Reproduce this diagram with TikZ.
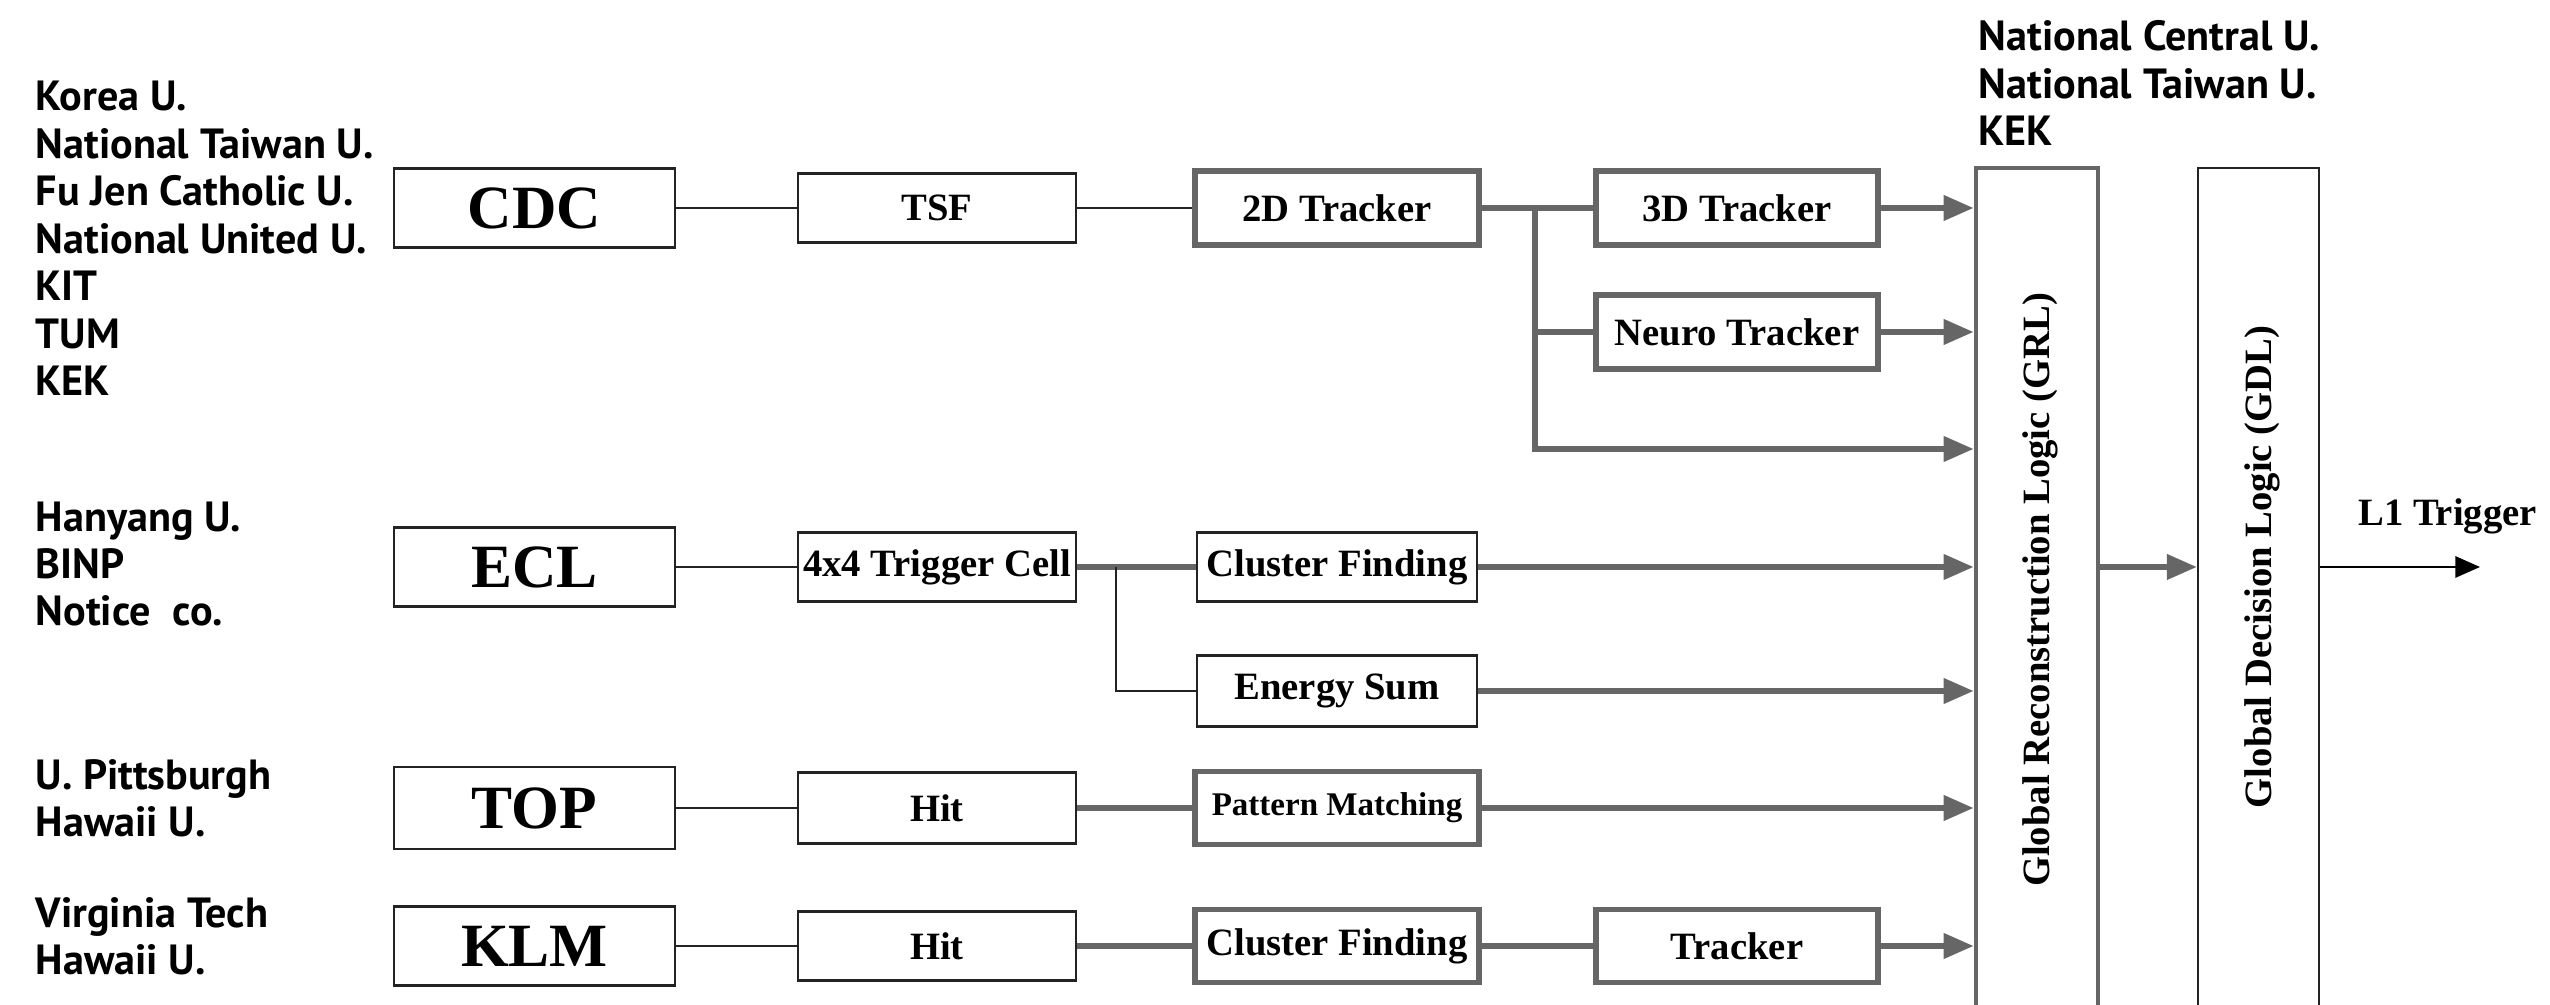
\documentclass[tikz,border=0pt]{standalone}
\usepackage{fontspec}
\setmainfont{Liberation Serif}
\newfontfamily\instfont{PT Sans}
\usetikzlibrary{arrows.meta}
\definecolor{boxgray}{RGB}{102,102,102}
\definecolor{lineblk}{RGB}{35,35,35}

\begin{document}
\begin{tikzpicture}[
    thinbox/.style={draw=lineblk, line width=0.7pt, inner sep=0pt, font=\fontsize{11}{13}\selectfont\bfseries},
    thickbox/.style={draw=boxgray, line width=1.6pt, inner sep=0pt, font=\fontsize{11}{13}\selectfont\bfseries},
    detbox/.style={thinbox, minimum width=2.81cm, minimum height=0.79cm, font=\fontsize{17.5}{20}\selectfont\bfseries},
    inst/.style={anchor=west, align=left, inner sep=0pt, font=\instfont\fontsize{12}{13.5}\selectfont\bfseries},
    thinline/.style={draw=lineblk, line width=0.6pt},
    grayline/.style={draw=boxgray, line width=1.5pt},
    grayarrow/.style={grayline, -{Triangle[length=8.5pt,width=7pt]}},
    blkarrow/.style={draw=black, line width=0.7pt, -{Triangle[length=7pt,width=6pt]}}
  ]
    \path[use as bounding box, clip] (0,0) rectangle (25.5,10.05);

    % Detektoren
    \node[detbox] (cdc) at (5.345,7.97) {CDC};
    \node[detbox] (ecl) at (5.345,4.38) {ECL};
    \node[detbox, minimum height=0.82cm] (top) at (5.345,1.97) {TOP};
    \node[detbox] (klm) at (5.345,0.59) {KLM};

    % Institute
    \node[inst] (cdcinst) at (0.35,7.665) {Korea U.\\National Taiwan U.\\Fu Jen Catholic U.\\National United U.\\KIT\\TUM\\KEK};
    \node[inst] (eclinst) at (0.35,4.41) {Hanyang U.\\BINP\\Notice\ \ co.};
    \node[inst] (topinst) at (0.35,2.07) {U. Pittsburgh\\Hawaii U.};
    \node[inst] (klminst) at (0.35,0.685) {Virginia Tech\\Hawaii U.};
    \node[inst] (grlinst) at (19.78,9.22) {National Central U.\\National Taiwan U.\\KEK};

    % erste Stufe
    \node[thinbox, minimum width=2.78cm, minimum height=0.69cm] (tsf) at (9.37,7.97) {TSF};
    \node[thinbox, minimum width=2.78cm, minimum height=0.69cm] (trg) at (9.37,4.38) {4x4 Trigger Cell};
    \node[thinbox, minimum width=2.78cm, minimum height=0.71cm] (hittop) at (9.37,1.97) {Hit};
    \node[thinbox, minimum width=2.78cm, minimum height=0.69cm] (hitklm) at (9.37,0.59) {Hit};

    % zweite Stufe
    \node[thickbox, minimum width=2.84cm, minimum height=0.74cm] (tdd) at (13.37,7.97) {2D Tracker};
    \node[thinbox, minimum width=2.80cm, minimum height=0.69cm] (cfecl) at (13.37,4.38) {Cluster Finding};
    \node[thinbox, minimum width=2.80cm, minimum height=0.71cm] (esum) at (13.37,3.14) {Energy Sum};
    \node[thickbox, minimum width=2.84cm, minimum height=0.73cm, font=\fontsize{9.4}{11}\selectfont\bfseries] (pm) at (13.37,1.97) {Pattern Matching};
    \node[thickbox, minimum width=2.84cm, minimum height=0.73cm] (cfklm) at (13.37,0.59) {Cluster Finding};

    % dritte Stufe
    \node[thickbox, minimum width=2.82cm, minimum height=0.74cm] (ttd) at (17.37,7.97) {3D Tracker};
    \node[thickbox, minimum width=2.82cm, minimum height=0.74cm] (neuro) at (17.37,6.73) {Neuro Tracker};
    \node[thickbox, minimum width=2.82cm, minimum height=0.73cm] (trk) at (17.37,0.59) {Tracker};

    % GRL und GDL
    \node[thickbox, line width=1.4pt, minimum width=1.22cm, minimum height=8.67cm] (grl) at (20.37,4.035) {};
    \node[rotate=90, font=\fontsize{11}{13}\selectfont\bfseries] (grltxt) at (20.40,4.15) {Global Reconstruction Logic (GRL)};
    \node[thinbox, minimum width=1.21cm, minimum height=8.67cm] (gdl) at (22.585,4.035) {};
    \node[rotate=90, font=\fontsize{11}{13}\selectfont\bfseries] (gdltxt) at (22.62,4.38) {Global Decision Logic (GDL)};

    % CDC
    \draw[thinline] (cdc) -- (tsf);
    \draw[thinline] (tsf) -- (tdd);
    \draw[grayline] (tdd) -- (ttd);
    \coordinate (br) at (15.35,7.97);
    \coordinate (byp) at (15.35,5.56);
    \draw[grayline] (br) |- (neuro);
    \draw[grayarrow] (br) -- (byp) -- (byp -| grl.west);
    \draw[grayarrow] (ttd) -- (ttd -| grl.west);
    \draw[grayarrow] (neuro) -- (neuro -| grl.west);

    % ECL
    \draw[thinline] (ecl) -- (trg);
    \draw[grayline] (trg) -- (cfecl);
    \coordinate (ebr) at (11.16,4.38);
    \draw[thinline] (ebr) |- (esum);
    \draw[grayarrow] (cfecl) -- (cfecl -| grl.west);
    \draw[grayarrow] (esum) -- (esum -| grl.west);

    % TOP
    \draw[thinline] (top) -- (hittop);
    \draw[grayline] (hittop) -- (pm);
    \draw[grayarrow] (pm) -- (pm -| grl.west);

    % KLM
    \draw[thinline] (klm) -- (hitklm);
    \draw[grayline] (hitklm) -- (cfklm);
    \draw[grayline] (cfklm) -- (trk);
    \draw[grayarrow] (trk) -- (trk -| grl.west);

    % Ausgang
    \draw[grayarrow] (grl.east |- gdltxt) -- (gdl.west |- gdltxt);
    \coordinate (l1) at (24.80,4.38);
    \draw[blkarrow] (gdl.east |- l1) -- (l1);
    \node[font=\fontsize{11}{13}\selectfont\bfseries] (l1txt) at (24.475,4.89) {L1 Trigger};
\end{tikzpicture}
\end{document}
